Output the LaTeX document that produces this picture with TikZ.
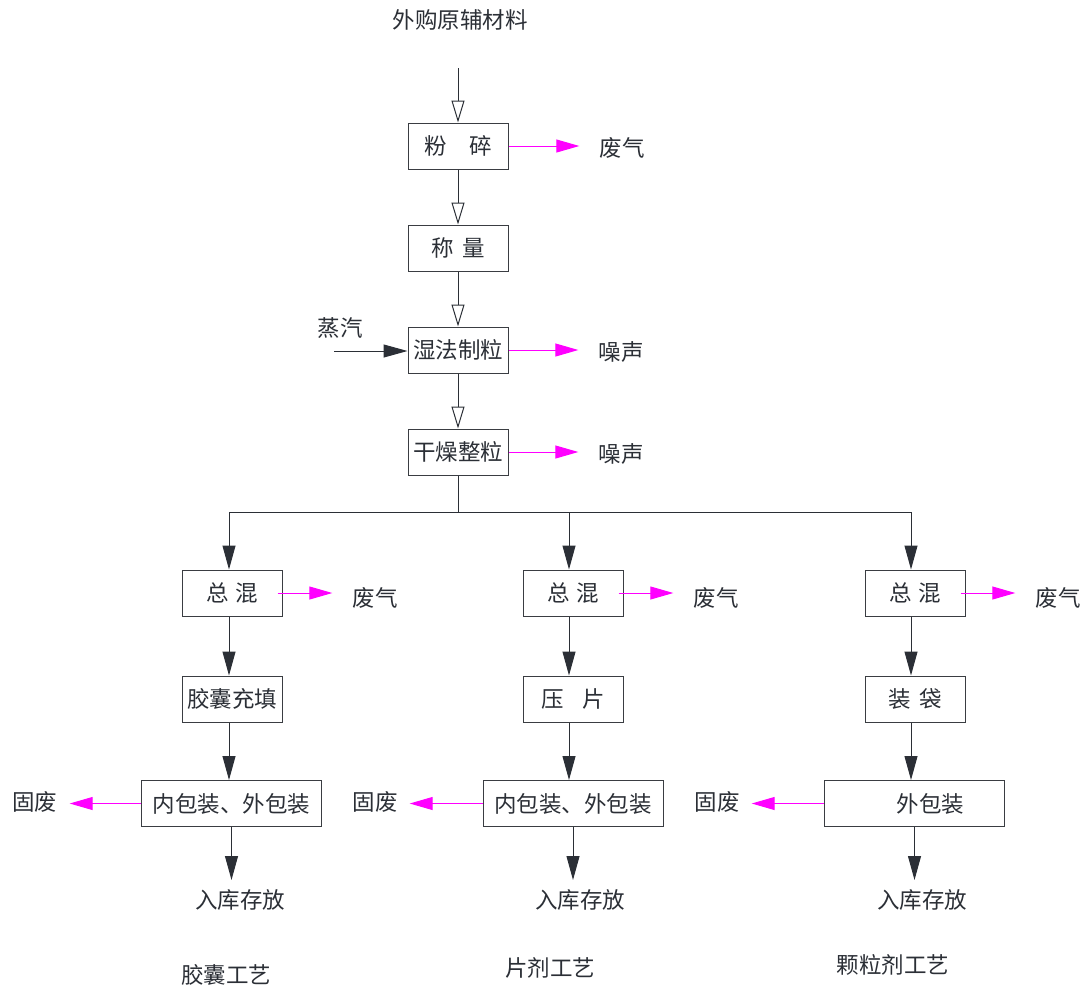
\documentclass[tikz,border=0pt]{standalone}
\usepackage{fontspec}
\setmainfont{Noto Sans CJK SC}
\usetikzlibrary{arrows.meta}
\definecolor{ink}{HTML}{2B2F36}
\definecolor{boxc}{HTML}{3A3D42}
\definecolor{mag}{HTML}{FF00FF}
\tikzset{
  box/.style={draw=boxc, line width=1pt, minimum width=100pt, minimum height=46pt, inner sep=0pt, text=ink, font=\fontsize{22.5}{22.5}\selectfont},
  wbox/.style={box, minimum width=180pt},
  lbl/.style={inner sep=0pt, text=ink, font=\fontsize{22.5}{22.5}\selectfont},
  line/.style={draw=ink, line width=1pt},
  oarrow/.style={line, -{Triangle[open, length=22pt, width=13pt, line width=1pt]}},
  farrow/.style={line, -{Triangle[length=24pt, width=13pt]}},
  marrow/.style={draw=mag, line width=1pt, -{Triangle[length=23pt, width=13pt]}, shorten >=20pt},
}
\begin{document}
\begin{tikzpicture}[x=1pt,y=-1pt]
\useasboundingbox (0,0) rectangle (1086,991);
% top chain
\node[lbl] (src) at (460,20) {外购原辅材料};
\coordinate (srcend) at (458,68);
\node[box] (fs) at (458,146) {粉\hspace{1em}碎};
\node[box] (cl) at (458,248) {称\hspace{0.4em}量};
\node[box] (sf) at (458,350) {湿法制粒};
\node[box] (gz) at (458,452) {干燥整粒};
\node[lbl] (fq0) at (622,148) {废气};
\node[lbl] (zs1) at (621,352) {噪声};
\node[lbl] (zs2) at (621,454) {噪声};
\node[lbl] (zq) at (340,328) {蒸汽};
\coordinate (zqs) at (334,351);
\draw[oarrow] (srcend) -- (fs.north);
\draw[oarrow] (fs.south) -- (cl.north);
\draw[oarrow] (cl.south) -- (sf.north);
\draw[oarrow] (sf.south) -- (gz.north);
\draw[marrow] (fs.east) -- (fs.east -| fq0.west);
\draw[marrow] (sf.east) -- (sf.east -| zs1.west);
\draw[marrow] (gz.east) -- (gz.east -| zs2.west);
\draw[farrow] (zqs) -- (zqs -| sf.west);
% branch
\coordinate (bm) at (458,512);
\coordinate (bl) at (229,512);
\coordinate (bc) at (569,512);
\coordinate (br) at (911,512);
\draw[line] (gz.south) -- (bm);
\draw[line] (bl) -- (br);
% left column
\node[box] (hl1) at (232,593) {总\hspace{0.3em}混};
\node[box] (jn) at (232,699) {胶囊充填};
\node[wbox] (bz1) at (231.5,803.5) {内包装、外包装};
\node[lbl] (fq1) at (375,598) {废气};
\node[lbl] (gf1) at (35,802) {固废};
\node[lbl] (rk1) at (240,900) {入库存放};
\node[lbl] (t1) at (226,975) {胶囊工艺};
\draw[farrow] (bl) -- (bl |- hl1.north);
\draw[farrow] (hl1.south -| bl) -- (bl |- jn.north);
\draw[farrow] (jn.south -| bl) -- (bl |- bz1.north);
\draw[farrow] (bz1.south) -- ++(0,53);
\draw[marrow] ([xshift=-5pt]hl1.east) -- (hl1.east -| fq1.west);
\draw[marrow, shorten >=12pt] (bz1.west) -- (bz1.west -| gf1.east);
% middle column
\node[box] (hl2) at (573,593) {总\hspace{0.3em}混};
\node[box] (yp) at (573,699) {压\hspace{0.8em}片};
\node[wbox] (bz2) at (573,803.5) {内包装、外包装};
\node[lbl] (fq2) at (716,598) {废气};
\node[lbl] (gf2) at (375,802) {固废};
\node[lbl] (rk2) at (580,900) {入库存放};
\node[lbl] (t2) at (550,968) {片剂工艺};
\draw[farrow] (bc) -- (bc |- hl2.north);
\draw[farrow] (hl2.south -| bc) -- (bc |- yp.north);
\draw[farrow] (yp.south -| bc) -- (bc |- bz2.north);
\draw[farrow] (bz2.south) -- ++(0,53);
\draw[marrow] ([xshift=-5pt]hl2.east) -- (hl2.east -| fq2.west);
\draw[marrow, shorten >=12pt] (bz2.west) -- (bz2.west -| gf2.east);
% right column
\node[box] (hl3) at (915,593) {总\hspace{0.3em}混};
\node[box] (zd) at (915,699) {装\hspace{0.4em}袋};
\node[wbox] (bz3) at (914.5,803.5) {\hspace{32pt}外包装};
\node[lbl] (fq3) at (1058,598) {废气};
\node[lbl] (gf3) at (717,802) {固废};
\node[lbl] (rk3) at (922,900) {入库存放};
\node[lbl] (t3) at (893,965) {颗粒剂工艺};
\draw[farrow] (br) -- (br |- hl3.north);
\draw[farrow] (hl3.south -| br) -- (br |- zd.north);
\draw[farrow] (zd.south -| br) -- (br |- bz3.north);
\draw[farrow] (bz3.south) -- ++(0,53);
\draw[marrow] ([xshift=-5pt]hl3.east) -- (hl3.east -| fq3.west);
\draw[marrow, shorten >=12pt] (bz3.west) -- (bz3.west -| gf3.east);
\end{tikzpicture}
\end{document}
